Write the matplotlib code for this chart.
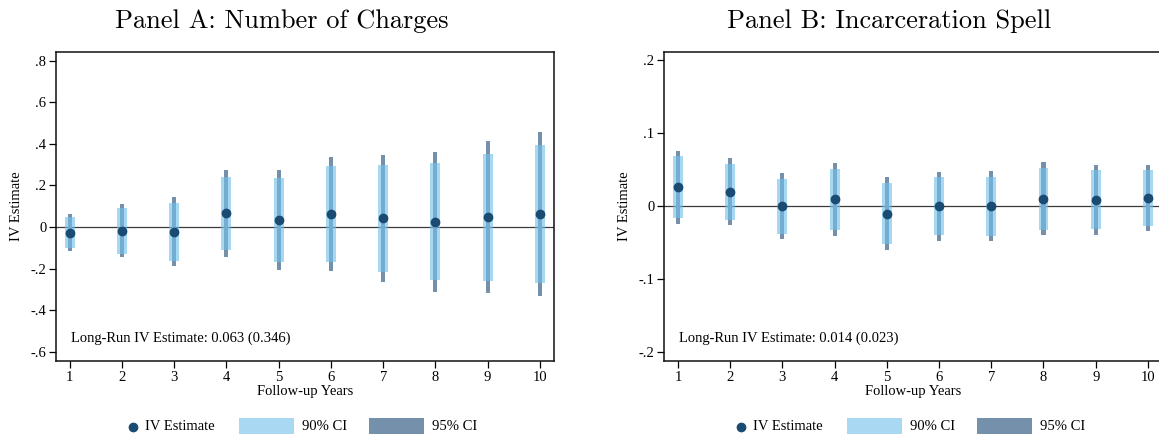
import matplotlib
matplotlib.use("Agg")
import matplotlib.pyplot as plt
from matplotlib.patches import Rectangle
from matplotlib.lines import Line2D

# Follow-up horizon
years = [1, 2, 3, 4, 5, 6, 7, 8, 9, 10]

# Panel A: Number of Charges
est_a = [-0.027, -0.019, -0.022, 0.067, 0.034, 0.063, 0.042, 0.026, 0.048, 0.063]
lo90_a = [-0.099, -0.128, -0.162, -0.109, -0.167, -0.167, -0.215, -0.253, -0.258, -0.268]
hi90_a = [0.046, 0.091, 0.115, 0.240, 0.236, 0.293, 0.298, 0.308, 0.351, 0.394]
lo95_a = [-0.114, -0.147, -0.188, -0.143, -0.205, -0.210, -0.263, -0.311, -0.316, -0.330]
hi95_a = [0.063, 0.111, 0.144, 0.274, 0.274, 0.337, 0.346, 0.361, 0.414, 0.457]
yticks_a = [-0.6, -0.4, -0.2, 0.0, 0.2, 0.4, 0.6, 0.8]
yticklabels_a = ["-.6", "-.4", "-.2", "0", ".2", ".4", ".6", ".8"]

# Panel B: Incarceration Spell
est_b = [0.026, 0.0196, 0.0, 0.0096, -0.0105, 0.0, 0.0, 0.0096, 0.0082, 0.011]
lo90_b = [-0.0164, -0.0192, -0.038, -0.033, -0.052, -0.0397, -0.041, -0.033, -0.0315, -0.027]
hi90_b = [0.0685, 0.0575, 0.037, 0.0507, 0.0315, 0.0397, 0.0397, 0.052, 0.049, 0.049]
lo95_b = [-0.0242, -0.026, -0.045, -0.041, -0.060, -0.048, -0.048, -0.040, -0.040, -0.034]
hi95_b = [0.0753, 0.0658, 0.045, 0.059, 0.0397, 0.0466, 0.048, 0.060, 0.056, 0.056]
yticks_b = [-0.2, -0.1, 0.0, 0.1, 0.2]
yticklabels_b = ["-.2", "-.1", "0", ".1", ".2"]

titles = ["Panel A: Number of Charges", "Panel B: Incarceration Spell"]
longrun = ["Long-Run IV Estimate: 0.063 (0.346)", "Long-Run IV Estimate: 0.014 (0.023)"]

C_POINT = "#1b4a73"
C_95 = "#7590ab"
C_90 = "#72c0ea"
C_90_SOLID = "#a8d8f2"
SERIF = ["Liberation Serif", "DejaVu Serif"]

plt.rcParams["font.family"] = SERIF
plt.rcParams["font.size"] = 10

W, H = 1159, 434
fig = plt.figure(figsize=(W / 100, H / 100), dpi=100)

def px(x0, y0, x1, y1):
    return [x0 / W, 1 - y1 / H, (x1 - x0) / W, (y1 - y0) / H]

ax_a = fig.add_axes(px(56, 51.7, 553.5, 361))
ax_b = fig.add_axes(px(664, 51.7, 1161.5, 361))

panels = [
    (ax_a, est_a, lo90_a, hi90_a, lo95_a, hi95_a, (-0.645, 0.843), yticks_a, yticklabels_a, (0.74, 10.26)),
    (ax_b, est_b, lo90_b, hi90_b, lo95_b, hi95_b, (-0.2123, 0.2114), yticks_b, yticklabels_b, (0.733, 10.26)),
]

for i, (ax, est, lo90, hi90, lo95, hi95, ylim, yt, ytl, xlim) in enumerate(panels):
    ax.axhline(0, color="#3a3a3a", lw=0.9, zorder=1)
    ax.bar(years, [h - l for h, l in zip(hi95, lo95)], bottom=lo95, width=0.078,
           color=C_95, linewidth=0, zorder=2)
    ax.bar(years, [h - l for h, l in zip(hi90, lo90)], bottom=lo90, width=0.19,
           color=C_90, alpha=0.62, linewidth=0, zorder=3)
    ax.plot(years, est, "o", color=C_POINT, markersize=6, zorder=4)
    ax.set_xlim(*xlim)
    ax.set_ylim(*ylim)
    ax.set_xticks(years)
    ax.set_xticklabels([str(y) for y in years])
    ax.set_yticks(yt)
    ax.set_yticklabels(ytl)
    ax.tick_params(direction="out", length=5, width=0.9, labelsize=10.5, pad=2)
    for s in ax.spines.values():
        s.set_linewidth(1.1)
        s.set_color("#111111")
    ax.set_xlabel("Follow-up Years", fontsize=10.5, labelpad=1)
    ax.text(0.03, 0.075, longrun[i], transform=ax.transAxes, fontsize=10.5,
            va="center", ha="left")

# Y axis labels
fig.text(17 / W, 1 - 206 / H, "IV Estimate", rotation=90, ha="center", va="center", fontsize=10.5)
fig.text(624 / W, 1 - 206 / H, "IV Estimate", rotation=90, ha="center", va="center", fontsize=10.5)

# Panel titles
fig.text(281.5 / W, 1 - 28 / H, titles[0], family="cmr10", fontsize=19, ha="center", va="baseline")
fig.text(889.5 / W, 1 - 28 / H, titles[1], family="cmr10", fontsize=19, ha="center", va="baseline")

# Legends under each panel
for off in (0, 608):
    yc = 1 - 427 / H
    fig.add_artist(Line2D([(133 + off) / W], [yc], marker="o", markersize=6,
                          color=C_POINT, linestyle="none", transform=fig.transFigure))
    fig.text((145 + off) / W, yc, "IV Estimate", va="center", ha="left", fontsize=10.5)
    fig.add_artist(Rectangle(((239 + off) / W, 0), 55 / W, 16 / H,
                             color=C_90_SOLID, transform=fig.transFigure, linewidth=0))
    fig.text((302 + off) / W, yc, "90% CI", va="center", ha="left", fontsize=10.5)
    fig.add_artist(Rectangle(((369 + off) / W, 0), 55 / W, 16 / H,
                             color=C_95, transform=fig.transFigure, linewidth=0))
    fig.text((432 + off) / W, yc, "95% CI", va="center", ha="left", fontsize=10.5)

fig.savefig("out.png", dpi=100)
